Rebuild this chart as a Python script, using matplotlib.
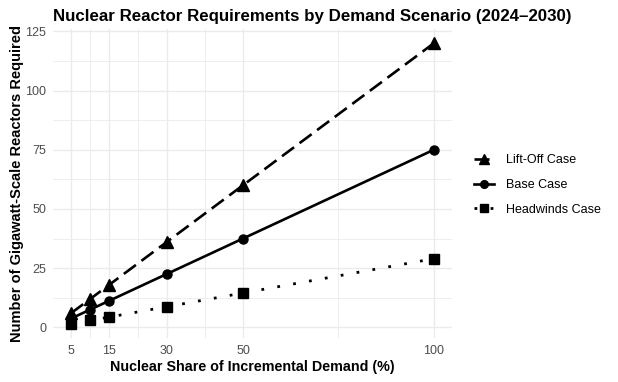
import matplotlib.pyplot as plt
from matplotlib.ticker import FixedLocator

plt.rcParams["font.family"] = ["Liberation Sans", "DejaVu Sans"]

# data
share = [5, 10, 15, 30, 50, 100]
liftoff = [6, 12, 18, 36, 60, 120]
base = [3.75, 7.5, 11.25, 22.5, 37.5, 75]
headwinds = [1.45, 2.9, 4.35, 8.7, 14.5, 29]

x_breaks = [5, 15, 30, 50, 100]
x_minor = [10, 22.5, 40, 75]
y_breaks = [0, 25, 50, 75, 100, 125]
y_minor = [12.5, 37.5, 62.5, 87.5, 112.5]

fig = plt.figure(figsize=(6.18, 3.82), dpi=100)
ax = fig.add_axes([53 / 618, 1 - 338 / 382, 399 / 618, 309 / 382])

ax.plot(share, liftoff, color="black", lw=1.9, ls=(0, (5.7, 2.6)),
        marker="^", ms=8, label="Lift-Off Case")
ax.plot(share, base, color="black", lw=1.9, ls="-",
        marker="o", ms=6.5, label="Base Case")
ax.plot(share, headwinds, color="black", lw=2.0, ls=(0, (1, 4.8)),
        marker="s", ms=6.5, label="Headwinds Case")

ax.set_xlim(0.25, 104.75)
ax.set_ylim(-4.5, 126)
ax.set_xticks(x_breaks)
ax.set_yticks(y_breaks)
ax.xaxis.set_minor_locator(FixedLocator(x_minor))
ax.yaxis.set_minor_locator(FixedLocator(y_minor))
ax.grid(True, which="major", color="#EBEBEB", lw=1.0)
ax.grid(True, which="minor", color="#EBEBEB", lw=0.6)
ax.set_axisbelow(True)
for s in ax.spines.values():
    s.set_visible(False)
ax.tick_params(which="both", length=0, labelsize=9, labelcolor="#4D4D4D", pad=5)

ax.set_xlabel("Nuclear Share of Incremental Demand (%)", fontsize=10.3,
              fontweight="bold", labelpad=2)
ax.set_ylabel("Number of Gigawatt-Scale Reactors Required", fontsize=10.5,
              fontweight="bold", labelpad=1)
fig.text(53 / 618, 1 - 16 / 382,
         "Nuclear Reactor Requirements by Demand Scenario (2024–2030)",
         fontsize=12.2, fontweight="bold", ha="left", va="center")

ax.legend(loc="center left", bbox_to_anchor=(1.028, 0.495), frameon=False,
          fontsize=9, handlelength=1.6, labelspacing=1.02, handletextpad=0.9,
          markerscale=0.85)

fig.savefig("out.png", dpi=100)
